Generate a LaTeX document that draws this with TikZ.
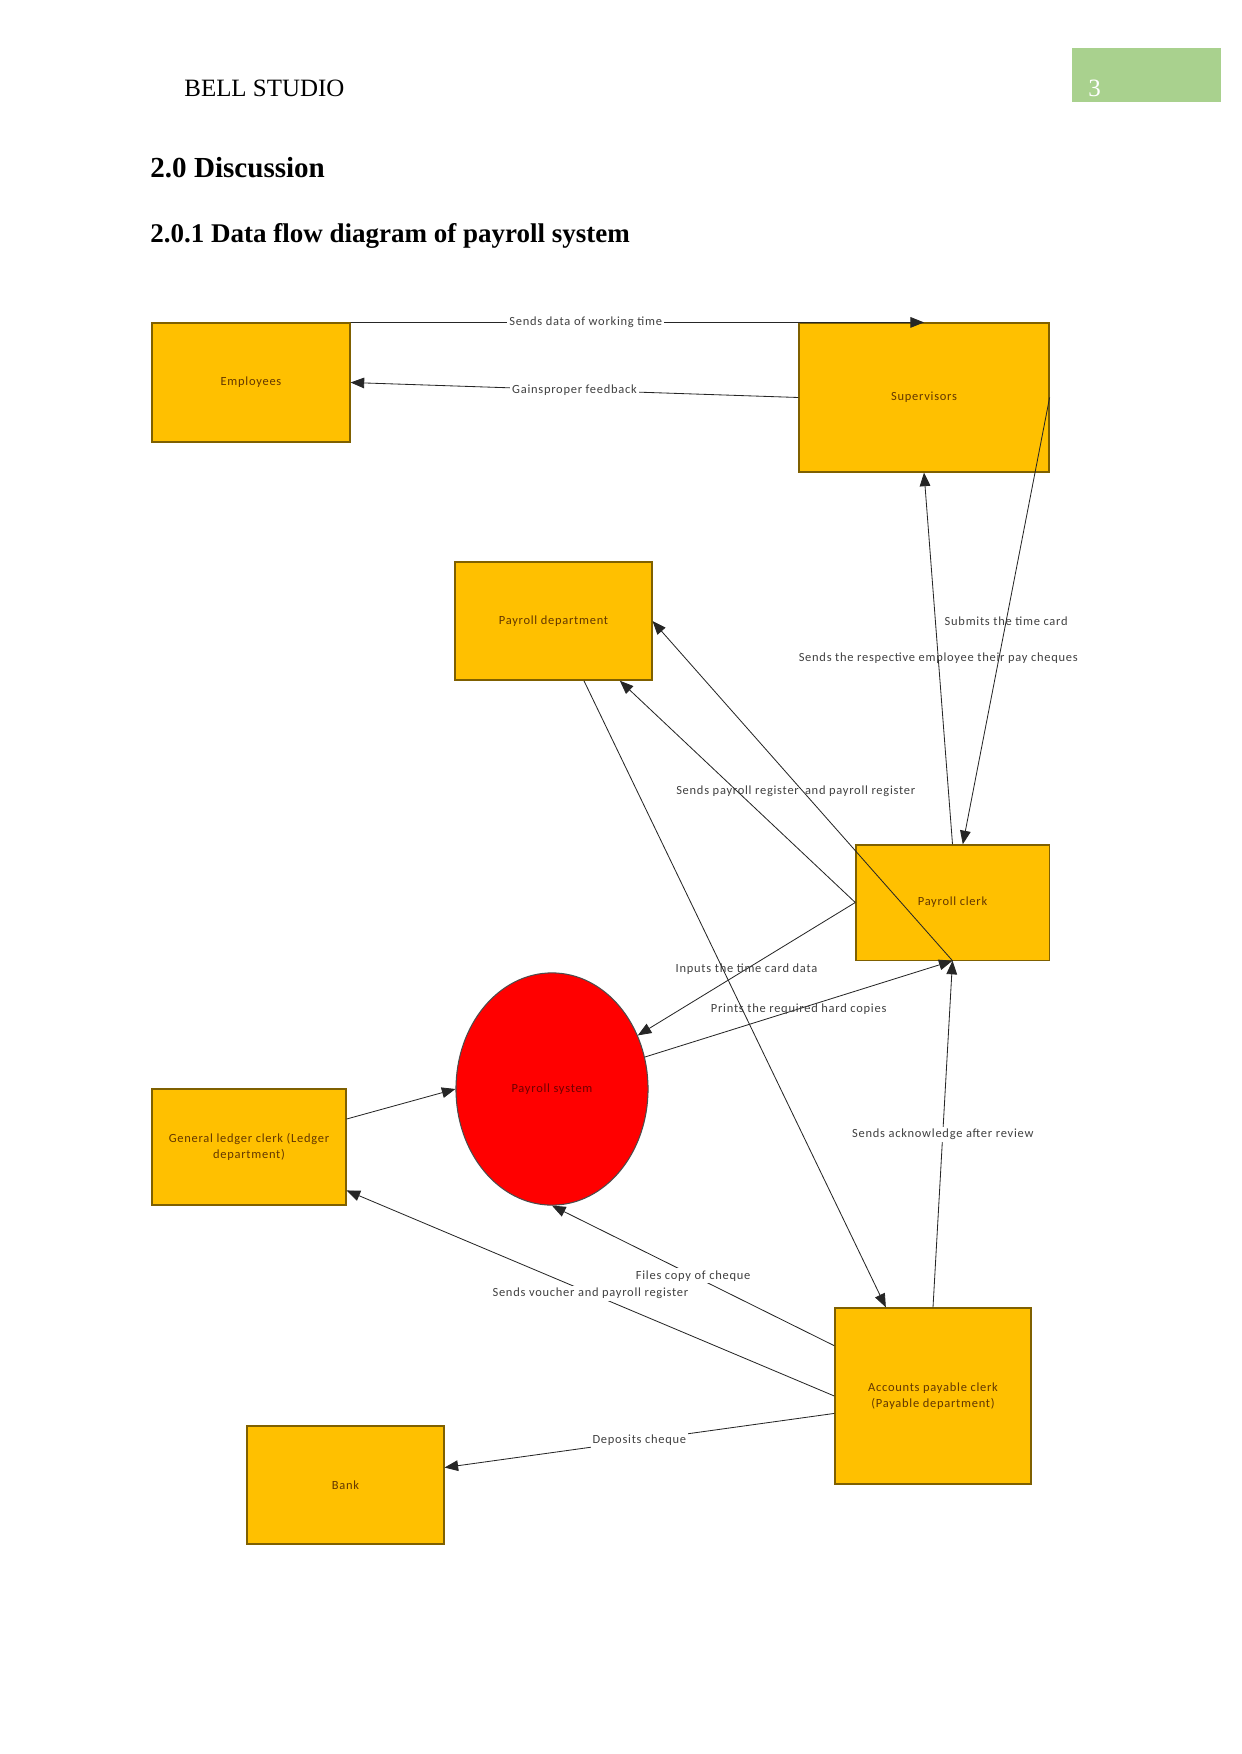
\documentclass[tikz,border=0pt]{standalone}
\usepackage{fontspec}
\setmainfont{Liberation Serif}
\newfontfamily\dfdfont[LetterSpace=6]{Carlito}
\usetikzlibrary{arrows.meta,shapes.geometric,positioning}
\definecolor{boxfill}{RGB}{255,192,0}
\definecolor{boxline}{RGB}{127,96,0}
\definecolor{boxtext}{RGB}{99,55,0}
\definecolor{procred}{RGB}{255,0,0}
\definecolor{proctext}{RGB}{110,0,0}
\definecolor{pagegreen}{RGB}{169,209,142}
\definecolor{flowtext}{RGB}{64,64,64}
\tikzset{
  entity/.style = {draw=boxline, line width=0.6pt, fill=boxfill, text=boxtext,
                   font=\dfdfont\fontsize{6}{7.5}\selectfont, align=center, inner sep=2pt},
  proc/.style   = {ellipse, draw=black!70, line width=0.5pt, fill=procred, text=proctext,
                   font=\dfdfont\fontsize{6}{7.5}\selectfont, inner sep=0pt},
  flow/.style   = {-{Triangle[length=2.3mm,width=1.8mm]}, line width=0.4pt, black!85},
  lbl/.style    = {font=\dfdfont\fontsize{6}{7.5}\selectfont, text=flowtext, inner sep=1pt},
  lblw/.style   = {lbl, fill=white},
}

\begin{document}
\begin{tikzpicture}[x=0.16922mm,y=-0.16922mm]
  \useasboundingbox (0,0) rectangle (1241,1754);
  % page header
  \fill[pagegreen] (1072,48) rectangle (1221,102);
  \node[anchor=west, inner sep=0pt, font=\fontsize{12}{14}\selectfont] (head) at (184,88) {BELL STUDIO};
  \node[anchor=west, inner sep=0pt, text=white, font=\fontsize{12}{14}\selectfont] (pageno) at (1088,88) {3};
  \node[anchor=west, inner sep=0pt, font=\bfseries\fontsize{14}{16}\selectfont] (sec) at (150,168) {2.0 Discussion};
  \node[anchor=west, inner sep=0pt, font=\bfseries\fontsize{13}{15}\selectfont] (subsec) at (150,236) {2.0.1 Data flow diagram of payroll system};

  % entities
  \node[entity, minimum width=33.5mm, minimum height=20.1mm] (emp)   at (251,382.5) {Employees};
  \node[entity, minimum width=42.3mm, minimum height=25.2mm] (sup)   at (924,397.5) {Supervisors};
  \node[entity, minimum width=33.3mm, minimum height=20.0mm] (dept)  at (553.5,621) {Payroll department};
  \node[entity, minimum width=32.7mm, minimum height=19.5mm] (clerk) at (952.5,902.5) {Payroll clerk};
  \node[proc,   minimum width=32.5mm, minimum height=39.3mm] (sys)   at (552,1089) {Payroll system};
  \node[entity, minimum width=32.8mm, minimum height=19.6mm] (gl)    at (249,1147) {General ledger clerk (Ledger\\department)};
  \node[entity, minimum width=33.2mm, minimum height=29.8mm] (acc)   at (933,1396) {Accounts payable clerk\\(Payable department)};
  \node[entity, minimum width=33.3mm, minimum height=20.0mm] (bank)  at (345.5,1485) {Bank};

  % flows
  \draw[flow] (emp.north east) -- node[lblw, pos=0.41] {Sends data of working time} (sup.north);
  \draw[flow] (sup.west) -- node[lblw, pos=0.5] {Gainsproper feedback} (emp.east);
  \draw[flow] (clerk.north) -- node[lbl, pos=0.5] {Sends the respective employee their pay cheques} (sup.south);
  \draw[flow] (sup.east) -- node[lbl, pos=0.5] {Submits the time card} (clerk.80);
  \draw[flow] (clerk.south) -- node[lbl, pos=0.5, right] {and payroll register} (dept.east);
  \draw[flow] (clerk.west) -- node[lbl, pos=0.5] {Sends payroll register} (dept.-42);
  \draw[flow] (clerk.west) -- node[lbl, pos=0.5] {Inputs the time card data} (sys.32);
  \draw[flow] (sys.19) -- node[lbl, pos=0.5] {Prints the required hard copies} (clerk.south);
  \draw[flow] (acc.north) -- node[lblw, pos=0.5] {Sends acknowledge after review} (clerk.south);
  \draw[flow] (dept.-63) -- (acc.118);
  \draw[flow] (gl.16) -- (sys.west);
  \draw[flow] (acc.west) -- node[lblw] {Sends voucher and payroll register} (gl.-24);
  \draw[flow] (acc.153) -- node[lblw] {Files copy of cheque} (sys.south);
  \draw[flow] (acc.190) -- node[lblw] {Deposits cheque} (bank.10);
\end{tikzpicture}
\end{document}
